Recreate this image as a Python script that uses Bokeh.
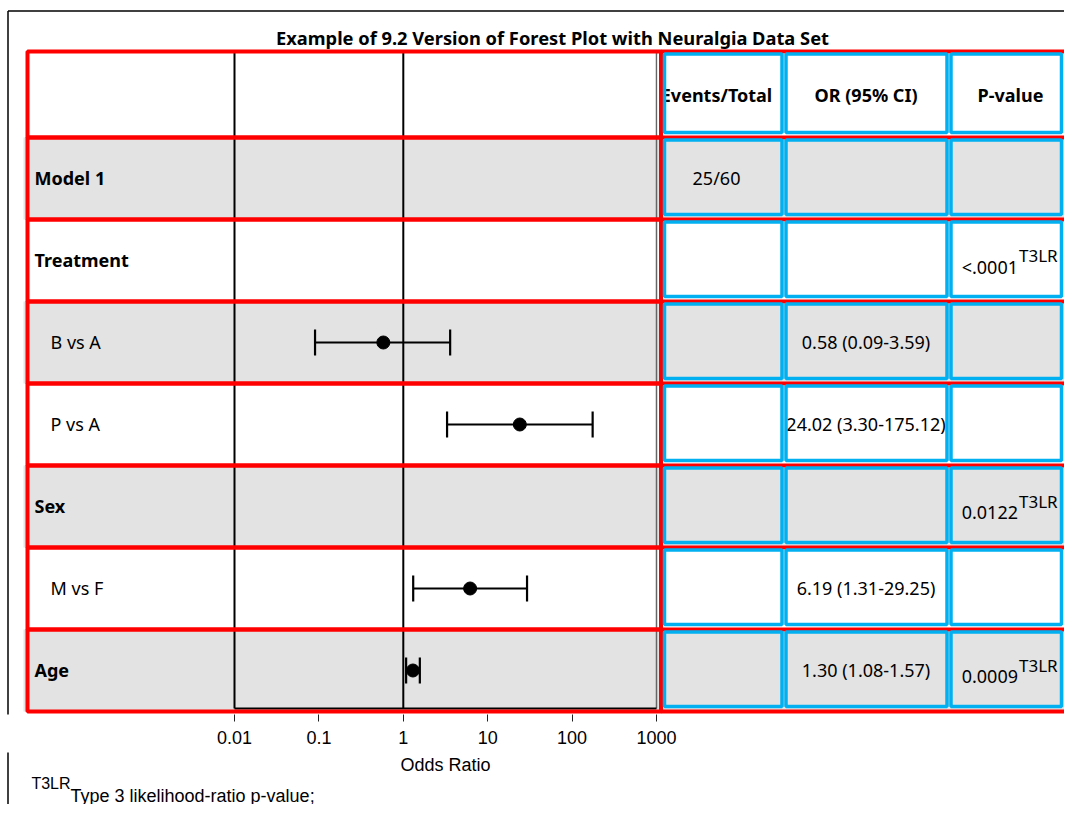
import math
from bokeh.plotting import figure
from bokeh.layouts import column
from bokeh.models import (Range1d, LogScale, LogAxis, FixedTicker, Grid,
                          CustomJSTickFormatter, ColumnDataSource)
from bokeh.core.properties import value
from bokeh.embed import file_html
from bokeh.resources import INLINE

# ---------------- data ----------------
title_text = "Example of 9.2 Version of Forest Plot with Neuralgia Data Set"
col_headers = ["Events/Total", "OR (95% CI)", "P-value"]
row_labels = ["Model 1", "Treatment", "B vs A", "P vs A", "Sex", "M vs F", "Age"]
row_is_group = [True, True, False, False, True, False, True]
events_total = ["25/60", "", "", "", "", "", ""]
p_values = ["", "<.0001", "", "", "0.0122", "", "0.0009"]
p_note = "T3LR"
forest_labels = ["B vs A", "P vs A", "M vs F", "Age"]
or_est = [0.58, 24.02, 6.19, 1.30]
or_low = [0.09, 3.30, 1.31, 1.08]
or_high = [3.59, 175.12, 29.25, 1.57]
x_ticks = [0.01, 0.1, 1, 10, 100, 1000]
x_label = "Odds Ratio"
footnote_text = "Type 3 likelihood-ratio p-value;"

# ---------------- layout ----------------
W = 1064
H_MAIN, H_FOOT = 752, 52
FRAME_BOTTOM = 714
HEAD_TOP, HEAD_BOT = 51, 137
ROW_H = 82
X_LO_PX, X_HI_PX = 234, 656      # x of first / last tick
RED_L, RED_MID = 27, 660.5
COLS = [(664, 781.5), (785.5, 946.5), (950.5, 1061)]
COL_TEXT_X = [716, 865.5, 1010]
P_SPLIT = 1017.5
BORDER_X, BORDER_Y = 7.5, 10.5
SANS = value("Noto Sans")
ARIAL = value("Liberation Sans")

tops = [HEAD_TOP] + [HEAD_BOT + ROW_H * i for i in range(len(row_labels))]
bots = [HEAD_BOT] + [HEAD_BOT + ROW_H * (i + 1) for i in range(len(row_labels))]
centers = [(t + b) / 2 for t, b in zip(tops, bots)]
row_c, row_t, row_b = centers[1:], tops[1:], bots[1:]

decade = (X_HI_PX - X_LO_PX) / (math.log10(x_ticks[-1]) - math.log10(x_ticks[0]))
lo_exp = math.log10(x_ticks[0]) - X_LO_PX / decade
hi_exp = math.log10(x_ticks[-1]) + (W - X_HI_PX) / decade


def base_fig(height, y_top, y_bottom, **kw):
    fig = figure(width=W, height=height, title=None,
                 x_range=Range1d(0, W), y_range=Range1d(y_bottom, y_top),
                 output_backend="svg", toolbar_location=None,
                 x_axis_location=None, y_axis_location=None,
                 outline_line_color=None, background_fill_color="white",
                 border_fill_color="white", **kw)
    fig.center = [r for r in fig.center if not isinstance(r, Grid)]
    fig.extra_x_ranges = {"log": Range1d(10 ** lo_exp, 10 ** hi_exp)}
    fig.extra_x_scales = {"log": LogScale()}
    return fig


p = base_fig(H_MAIN, 0, FRAME_BOTTOM, min_border_left=0, min_border_right=0,
             min_border_top=0, min_border_bottom=H_MAIN - FRAME_BOTTOM)

# outer border (left + top)
p.segment(x0=[BORDER_X, BORDER_X], y0=[BORDER_Y, BORDER_Y],
          x1=[BORDER_X, W + 5], y1=[FRAME_BOTTOM + 5, BORDER_Y],
          line_color="black", line_width=1.5)

# gray bands
gray_idx = [i for i in range(len(row_labels)) if i % 2 == 0]
p.quad(left=RED_L - 4, right=W + 20, top=[row_t[i] for i in gray_idx],
       bottom=[row_b[i] for i in gray_idx], fill_color="#e3e3e3", line_color=None)

# plot wall
wall_top, wall_bot = HEAD_TOP + 1, FRAME_BOTTOM - 6
p.segment(x0=[x_ticks[0], 1], x1=[x_ticks[0], 1], y0=wall_top, y1=wall_bot,
          line_color="black", line_width=2, x_range_name="log")
p.segment(x0=[x_ticks[-1]], x1=[x_ticks[-1]], y0=wall_top, y1=wall_bot,
          line_color="#666666", line_width=1.5, x_range_name="log")
p.segment(x0=[x_ticks[0]], x1=[x_ticks[-1]], y0=wall_bot, y1=wall_bot,
          line_color="black", line_width=2, x_range_name="log")

# forest marks
fy = [row_c[row_labels.index(l)] for l in forest_labels]
src = ColumnDataSource(dict(est=or_est, lo=or_low, hi=or_high, y=fy,
                            y0=[v - 13 for v in fy], y1=[v + 13 for v in fy]))
for x0, x1, y0, y1 in (("lo", "hi", "y", "y"), ("lo", "lo", "y0", "y1"),
                       ("hi", "hi", "y0", "y1")):
    p.segment(x0=x0, x1=x1, y0=y0, y1=y1, source=src, line_color="black",
              line_width=2.2, x_range_name="log")
p.scatter(x="est", y="y", source=src, size=13, color="black", x_range_name="log")

# title
p.text(x=[552], y=[37], text=[title_text], text_font=SANS,
       text_font_style="bold", text_font_size="18.3px", text_align="center",
       text_baseline="middle", text_color="black")

# row labels
g = [i for i, f in enumerate(row_is_group) if f]
n = [i for i, f in enumerate(row_is_group) if not f]
p.text(x=34, y=[row_c[i] - 1 for i in g], text=[row_labels[i] for i in g],
       text_font=SANS, text_font_style="bold", text_font_size="18px",
       text_baseline="middle", text_color="black")
p.text(x=50, y=[row_c[i] - 1 for i in n], text=[row_labels[i] for i in n],
       text_font=SANS, text_font_size="18px", text_baseline="middle",
       text_color="black")

# column headers
p.text(x=COL_TEXT_X, y=[centers[0]] * 3, text=col_headers, text_font=SANS,
       text_font_style="bold", text_font_size="18px", text_align="center",
       text_baseline="middle", text_color="black")
# mask between plot wall and table in the header row
p.quad(left=[x_ticks[-1] * 1.03], right=[x_ticks[-1] * 1.07], top=[tops[0] + 3],
       bottom=[bots[0] - 3], fill_color="white", line_color=None, x_range_name="log")

# events / total
ev = [i for i, e in enumerate(events_total) if e]
p.text(x=COL_TEXT_X[0], y=[row_c[i] - 1 for i in ev], text=[events_total[i] for i in ev],
       text_font=SANS, text_font_size="18px", text_align="center",
       text_baseline="middle", text_color="black")

# OR (95% CI)
or_txt = ["%.2f (%.2f-%.2f)" % (e, l, h) for e, l, h in zip(or_est, or_low, or_high)]
p.text(x=COL_TEXT_X[1], y=[v - 1 for v in fy], text=or_txt, text_font=SANS,
       text_font_size="18px", text_align="center", text_baseline="middle",
       text_color="black")

# p-values with superscript note
pv = [i for i, v in enumerate(p_values) if v]
p.text(x=P_SPLIT, y=[row_c[i] + 6 for i in pv], text=[p_values[i] for i in pv],
       text_font=SANS, text_font_size="18px", text_align="right",
       text_baseline="middle", text_color="black")
p.text(x=P_SPLIT + 1, y=[row_c[i] - 5 for i in pv], text=[p_note] * len(pv),
       text_font=SANS, text_font_size="17px", text_align="left",
       text_baseline="middle", text_color="black")

# red boxes: left panel closed, right panel runs off the right edge
p.quad(left=RED_L, right=RED_MID, top=tops, bottom=bots, fill_color=None,
       line_color="#ff0000", line_width=4)
edges = sorted(set(tops + bots))
p.segment(x0=RED_MID, x1=W + 20, y0=edges, y1=edges, line_color="#ff0000",
          line_width=4)

# blue cell boxes
bl, br, bt, bb = [], [], [], []
for t, b in zip(tops, bots):
    for (cl, cr) in COLS:
        bl.append(cl); br.append(cr); bt.append(t + 2.5); bb.append(b - 5)
p.quad(left=bl, right=br, top=bt, bottom=bb, fill_color=None,
       line_color="#00b0f0", line_width=3.5)

# x axis (log), tick labels only; its title sits in the strip below
ax = LogAxis(x_range_name="log", ticker=FixedTicker(ticks=x_ticks),
             formatter=CustomJSTickFormatter(code="return tick.toString();"),
             bounds=(x_ticks[0], x_ticks[-1]))
ax.axis_line_color = None
ax.major_tick_line_color = "#222222"
ax.major_tick_out = 7
ax.major_tick_in = 0
ax.minor_tick_line_color = None
ax.major_label_text_font = "Liberation Sans"
ax.major_label_text_font_size = "18px"
ax.major_label_text_color = "black"
ax.major_label_standoff = 9
p.add_layout(ax, "below")

# strip with the axis title and the footnote
f = base_fig(H_FOOT, H_MAIN, H_MAIN + H_FOOT, min_border=0)
f.segment(x0=[BORDER_X], x1=[BORDER_X], y0=[H_MAIN - 2], y1=[H_MAIN + H_FOOT + 2],
          line_color="black", line_width=1.5)
f.text(x=[math.sqrt(x_ticks[0] * x_ticks[-1])], y=[764], text=[x_label],
       text_font=ARIAL, text_font_size="18px", text_align="center",
       text_baseline="middle", text_color="black", x_range_name="log")
f.text(x=[70], y=[783], text=[p_note], text_font=ARIAL,
       text_font_size="16px", text_align="right", text_baseline="middle",
       text_color="black")
f.text(x=[70], y=[795], text=[footnote_text], text_font=ARIAL,
       text_font_size="18px", text_align="left", text_baseline="middle",
       text_color="black")

layout = column(p, f, spacing=0)
open("out.html", "w").write(file_html(layout, INLINE))
